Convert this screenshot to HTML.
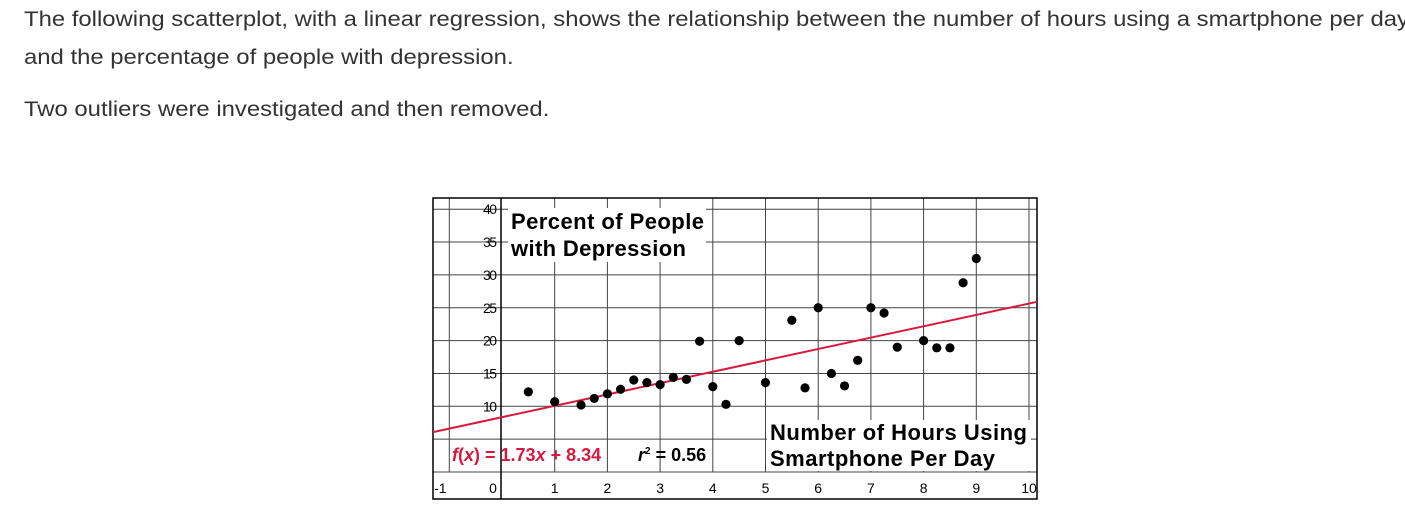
<!DOCTYPE html>
<html><head><meta charset="utf-8"><style>
body{margin:0;width:1405px;height:522px;background:#fff;overflow:hidden;font-family:"Liberation Sans",sans-serif;}
.p{position:absolute;left:24px;font-size:21.5px;color:#333;margin:0;white-space:nowrap;transform:scaleX(1.11);transform-origin:0 0}
svg{position:absolute;left:0;top:0}
</style></head><body>
<p class="p" style="top:7px">The following scatterplot, with a linear regression, shows the relationship between the number of hours using a smartphone per day</p>
<p class="p" style="top:45px">and the percentage of people with depression.</p>
<p class="p" style="top:97px">Two outliers were investigated and then removed.</p>
<svg id="c" width="1405" height="522"></svg>
<script>
const xs=[0.5,1,1.5,1.75,2,2.25,2.5,2.75,3,3.25,3.5,3.75,4,4.25,4.5,5,5.5,5.75,6,6.25,6.5,6.75,7,7.25,7.5,8,8.25,8.5,8.75,9];
const ys=[12.2,10.7,10.2,11.2,11.9,12.6,14,13.6,13.3,14.4,14.1,19.9,13,10.3,20,13.6,23.1,12.8,25,15,13.1,17,25,24.2,19,20,18.9,18.9,28.8,32.5];
const xTicks=[-1,0,1,2,3,4,5,6,7,8,9,10];
const yTicks=[10,15,20,25,30,35,40];
const slope=1.73, intercept=8.34;
const NS="http://www.w3.org/2000/svg";
const svg=document.getElementById('c');
const L=433,R=1037,T=198,B=499;
const X=v=>502+v*52.7, Y=v=>472-v*6.57;
function mk(t,a,txt){const e=document.createElementNS(NS,t);for(const k in a)e.setAttribute(k,a[k]);if(txt!==undefined)e.textContent=txt;svg.appendChild(e);return e;}
for(let v=-1;v<=10;v++){if(v===0)continue;const g=mk('line',{x1:X(v),x2:X(v),y1:T,y2:B-27,stroke:'#444','stroke-width':1});

}
for(let v=0;v<=40;v+=5){const g=mk('line',{x1:L,x2:R,y1:Y(v),y2:Y(v),stroke:'#444','stroke-width':1});

}
const ya=mk('line',{x1:X(0)-1,x2:X(0)-1,y1:T,y2:B,stroke:'#000','stroke-width':1.5});


const bx=mk('rect',{x:L,y:T,width:R-L,height:B-T,fill:'none',stroke:'#000','stroke-width':1.5});


xTicks.forEach(v=>{const t=mk('text',{x:v<=0?X(v)-9:X(v),y:493,'font-size':14,'text-anchor':'middle',fill:'#000'},String(v));

});
yTicks.forEach(v=>{const t=mk('text',{x:497,y:Y(v)+5,'font-size':14,'text-anchor':'end',fill:'#000',textLength:14},String(v));

});
const bg1=mk('rect',{x:508,y:208,width:198,height:54,fill:'#fff'});


const t1=mk('text',{x:511,y:229,'font-size':22,'font-weight':'bold',textLength:193},'Percent of People');


const t2=mk('text',{x:511,y:256,'font-size':22,'font-weight':'bold',textLength:175},'with Depression');


const bg2=mk('rect',{x:767,y:420,width:264,height:51,fill:'#fff'});


const t3=mk('text',{x:770,y:440,'font-size':22,'font-weight':'bold',textLength:257},'Number of Hours Using');


const t4=mk('text',{x:770,y:466,'font-size':22,'font-weight':'bold',textLength:225},'Smartphone Per Day');


const rl=mk('line',{x1:L,x2:R,y1:Y(intercept+slope*((L-502)/52.7)),y2:Y(intercept+slope*((R-502)/52.7)),stroke:'#d8193f','stroke-width':2});


const eq=mk('text',{x:452,y:461,'font-size':18,'font-weight':'bold',fill:'#d8193f'});


eq.innerHTML='<tspan font-style="italic">f</tspan>(<tspan font-style="italic">x</tspan>) = '+slope.toFixed(2)+'<tspan font-style="italic">x</tspan> + '+intercept.toFixed(2);
const r2=mk('text',{x:638,y:461,'font-size':18,'font-weight':'bold',fill:'#000'});


r2.innerHTML='<tspan font-style="italic">r</tspan><tspan font-size="10" dy="-7">2</tspan><tspan dy="7"> = 0.56</tspan>';
xs.forEach((x,i)=>{const c=mk('circle',{cx:X(x),cy:Y(ys[i]),r:4.6,fill:'#000'});

});
</script>
</body></html>
